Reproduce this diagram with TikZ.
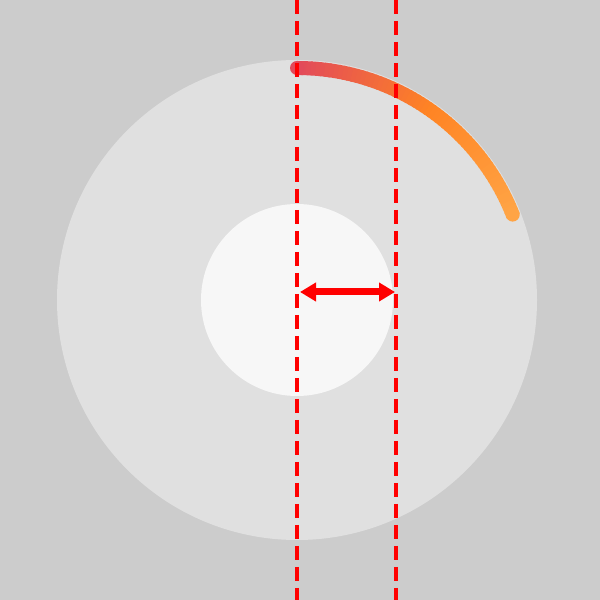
\documentclass[tikz,border=0pt]{standalone}
\usetikzlibrary{arrows.meta}
\definecolor{bgGray}{HTML}{CCCCCC}
\definecolor{diskOuter}{HTML}{E0E0E0}
\definecolor{diskInner}{HTML}{F7F7F7}
\definecolor{guideRed}{HTML}{FF0000}
\definecolor{arcStart}{HTML}{E24A5A}
\definecolor{arcMid}{HTML}{FF8424}
\definecolor{arcEnd}{HTML}{FFA445}
\begin{document}
\begin{tikzpicture}[
        x=0.1mm, y=0.1mm,
        guide/.style={
            draw=guideRed, line width=0.35mm, dash pattern=on 1.4mm off 0.7mm
        },
        gapArrow/.style={
            draw=guideRed, line width=0.7mm,
            {Triangle[length=1.6mm,width=1.8mm]}-{Triangle[length=1.6mm,width=1.8mm]}
        }
    ]
        \useasboundingbox (0,0) rectangle (600,600);
        % background and disks
        \fill[bgGray] (-10,-10) rectangle (610,610);
        \coordinate (centre) at (297,300);
        \fill[diskOuter] (centre) circle (240);
        \fill[diskInner] (centre) circle (96);
        
        % gradient arc
        \foreach \i in {0,...,59}{
            \pgfmathsetmacro{\angA}{90-\i*68.4/60}
            \pgfmathsetmacro{\angB}{\angA-68.4/60-0.4}
            \ifnum\i<30
                \pgfmathtruncatemacro{\mix}{100*\i/30}
                \colorlet{segColor}{arcMid!\mix!arcStart}
            \else
                \pgfmathtruncatemacro{\mix}{100*(\i-30)/29}
                \colorlet{segColor}{arcEnd!\mix!arcMid}
            \fi
            \draw[segColor, line width=1.4mm] ([shift={(\angA:232)}]centre)
                arc[start angle=\angA, end angle=\angB, radius=232];
        }
        \fill[arcStart] ([shift={(90:232)}]centre) circle (7);
        \fill[arcEnd] ([shift={(21.6:232)}]centre) circle (7);
        
        % guides
        \coordinate (guideA top) at (297,600);
        \coordinate (guideA bottom) at (297,0);
        \coordinate (guideB top) at (396,600);
        \coordinate (guideB bottom) at (396,0);
        \draw[guide] (guideA top) -- (guideA bottom);
        \draw[guide] (guideB top) -- (guideB bottom);
        
        % gap arrow
        \coordinate (gap left) at (300,308);
        \coordinate (gap right) at (395,308);
        \draw[gapArrow] (gap left) -- (gap right);
    \end{tikzpicture}
\end{document}
